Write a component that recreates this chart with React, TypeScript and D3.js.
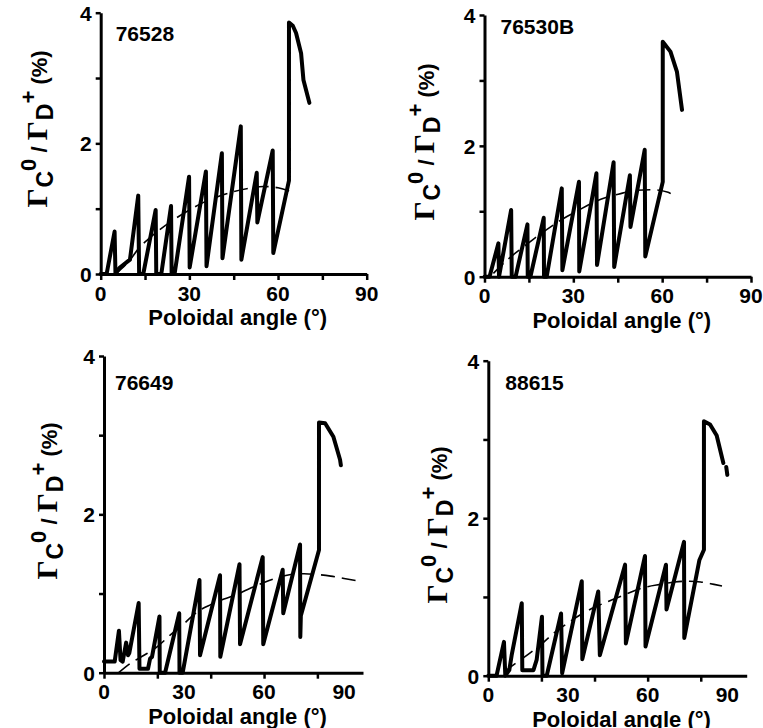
import * as d3 from "d3";
import { useEffect, useRef } from "react";

const W = 763;
const H = 728;

// shot numbers written in each panel
const shots = ["76528", "76530B", "76649", "88615"];

// measured C0 / D+ flux ratio (%) against poloidal angle (deg), one pair per shot
const angle76528 = [0, 2, 4.7, 5, 6.5, 9.9, 12.7, 13, 14.4, 18.6, 18.8, 20.5, 23.8, 24, 25, 29.9, 30.1, 35.6, 35.8, 41, 41.2, 47.4, 47.6, 52.8, 53, 58.2, 58.4, 63.7, 63.7, 65, 66.1, 67.8, 68.6, 70.6];
const ratio76528 = [0, 0, 0.65, 0, 0.1, 0.22, 1.2, 0, 0, 0.98, 0, 0, 1.04, 0, 0, 1.49, 0.1, 1.57, 0.12, 1.85, 0.24, 2.26, 0.22, 1.55, 0.79, 1.89, 0.32, 1.43, 3.85, 3.8, 3.69, 3.38, 2.97, 2.62];

const angle76530B = [0, 1.7, 4.7, 4.9, 5.5, 9, 9.2, 10.5, 14.5, 14.6, 15.5, 20, 20.1, 21, 26.1, 26.3, 31.9, 32, 37.8, 38, 43.6, 43.8, 49.1, 49.3, 54.1, 54.3, 60.2, 60.2, 62.8, 65, 66.7];
const ratio76530B = [0, 0, 0.51, 0, 0.15, 1.02, 0, 0, 0.8, 0, 0, 0.9, 0, 0, 1.35, 0.1, 1.45, 0.08, 1.58, 0.18, 1.75, 0.15, 1.55, 0.76, 1.94, 0.31, 1.45, 3.59, 3.44, 3.13, 2.55];

const angle76649 = [0, 4, 5.6, 6.2, 7, 8.3, 9, 9.5, 13, 13.3, 16.5, 17.3, 18, 20.8, 20.9, 22.9, 28.2, 28.3, 29.5, 35.8, 36, 43.5, 43.6, 50.8, 51, 59.5, 59.7, 67, 67.2, 73.5, 73.6, 73.8, 80.6, 80.6, 82.9, 86, 88.5, 88.8];
const ratio76649 = [0.14, 0.14, 0.53, 0.16, 0.14, 0.38, 0.22, 0.25, 0.88, 0.05, 0.05, 0.18, 0.2, 0.71, 0, 0, 0.75, 0, 0, 1.17, 0.22, 1.23, 0.2, 1.37, 0.36, 1.46, 0.36, 1.3, 0.75, 1.62, 0.45, 0.72, 1.55, 3.16, 3.15, 2.98, 2.69, 2.62];

const angle88615 = [0, 3.1, 5.9, 6.4, 7.9, 8.8, 12.6, 12.8, 17, 18.2, 20.2, 20.4, 22, 27.4, 27.8, 35.2, 35.4, 41.4, 42, 51.5, 51.8, 59, 59.2, 66.9, 67.1, 73.7, 73.8, 79.5, 81.2, 81.2, 83.5, 86, 88, 88.5, 89.2, 89.6, 90];
const ratio88615 = [0, 0, 0.43, 0, 0.07, 0.26, 0.92, 0.07, 0.07, 0.2, 0.75, 0, 0, 0.79, 0.03, 1.2, 0.21, 1.07, 0.26, 1.41, 0.41, 1.52, 0.37, 1.41, 0.84, 1.7, 0.48, 1.47, 1.6, 3.23, 3.19, 3.05, 2.77, 2.7, NaN, 2.65, 2.55];

// dashed trend through each sawtooth
const fitAngle76528 = [5, 10, 13, 16, 20, 25, 30, 35, 40, 45, 50, 55, 60, 65];
const fitRatio76528 = [0, 0.22, 0.4, 0.53, 0.68, 0.84, 0.98, 1.1, 1.19, 1.26, 1.31, 1.34, 1.32, 1.25];

const fitAngle76530B = [3, 8, 13, 17, 21.6, 26.7, 31.2, 36, 41, 46, 51, 56.6, 62, 63.5];
const fitRatio76530B = [0.05, 0.27, 0.45, 0.59, 0.74, 0.89, 1.0, 1.12, 1.21, 1.27, 1.32, 1.33, 1.29, 1.25];

const fitAngle76649 = [5.5, 10, 15, 20, 25, 30, 35, 40, 45, 50, 55, 60, 65, 70, 75, 80, 85, 90, 95];
const fitRatio76649 = [0, 0.12, 0.22, 0.33, 0.48, 0.62, 0.77, 0.86, 0.93, 0.99, 1.07, 1.14, 1.2, 1.24, 1.25, 1.24, 1.22, 1.19, 1.16];

const fitAngle88615 = [6, 10, 15, 20, 25, 30, 35, 40, 45, 50, 55, 60, 65, 70, 75, 80, 85, 88];
const fitRatio88615 = [0.05, 0.15, 0.27, 0.4, 0.55, 0.67, 0.78, 0.87, 0.94, 1.01, 1.08, 1.13, 1.16, 1.19, 1.2, 1.19, 1.16, 1.14];

const measuredAngles = [angle76528, angle76530B, angle76649, angle88615];
const measuredRatios = [ratio76528, ratio76530B, ratio76649, ratio88615];
const fitAngles = [fitAngle76528, fitAngle76530B, fitAngle76649, fitAngle88615];
const fitRatios = [fitRatio76528, fitRatio76530B, fitRatio76649, fitRatio88615];

const yTicks = [0, 1, 2, 3, 4];
const yTickLabels = [0, 2, 4];
const xTickLabels = [0, 30, 60, 90];
const xTicksWide = [0, 15, 30, 45, 60, 75, 90];
const xTicksNarrow = [0, 20, 40, 60, 80];

// where each panel sits on the page
const layout = [
  { left: 100.7, right: 366.7, xMax: 90, bottom: 274, top: 12.7, xTicks: xTicksWide, nameX: 15, nameY: 28, ylabX: 47, ylabY: 129 },
  { left: 484.5, right: 751, xMax: 90, bottom: 276.7, top: 15, xTicks: xTicksWide, nameX: 16, nameY: 19, ylabX: 434, ylabY: 142 },
  { left: 104, right: 363, xMax: 97.1, bottom: 672.7, top: 356, xTicks: xTicksNarrow, nameX: 11, nameY: 34, ylabX: 57, ylabY: 501 },
  { left: 488.3, right: 746.7, xMax: 97.3, bottom: 675.7, top: 360.7, xTicks: xTicksNarrow, nameX: 17, nameY: 29, ylabX: 447, ylabY: 525 },
];

const SANS = "'Liberation Sans', Arial, Helvetica, sans-serif";
const SERIF = "'Liberation Serif', 'Times New Roman', serif";

export default function App() {
  const svgRef = useRef(null);

  useEffect(() => {
    const svg = d3.select(svgRef.current);
    svg.selectAll("*").remove();

    layout.forEach((p, i) => {
      const x = d3.scaleLinear().domain([0, p.xMax]).range([p.left, p.right]);
      const y = d3.scaleLinear().domain([0, 4]).range([p.bottom, p.top]);
      const g = svg.append("g");

      // y axis
      const yAxis = g
        .append("g")
        .attr("transform", `translate(${p.left},0)`)
        .call(
          d3
            .axisLeft(y)
            .tickValues(yTicks)
            .tickSize(5)
            .tickSizeOuter(0)
            .tickPadding(4)
            .tickFormat((d) => (yTickLabels.includes(d) ? String(d) : ""))
        );
      yAxis.select(".domain").attr("stroke-width", 3);
      yAxis.selectAll(".tick line").attr("stroke-width", 2.5);
      yAxis
        .selectAll(".tick text")
        .attr("font-family", SANS)
        .attr("font-weight", "bold")
        .attr("font-size", 21)
        .attr("dy", "0.36em");

      // x axis, tick marks only
      const xAxis = g
        .append("g")
        .attr("transform", `translate(0,${p.bottom})`)
        .call(
          d3
            .axisBottom(x)
            .tickValues(p.xTicks)
            .tickSize(6)
            .tickSizeOuter(0)
            .tickFormat(() => "")
        );
      xAxis.select(".domain").attr("stroke-width", 3);
      xAxis.selectAll(".tick line").attr("stroke-width", 2.5);

      g.selectAll(".xlab")
        .data(xTickLabels)
        .join("text")
        .attr("class", "xlab")
        .attr("x", (d) => x(d))
        .attr("y", p.bottom + 19)
        .attr("dy", "0.36em")
        .attr("text-anchor", "middle")
        .attr("font-family", SANS)
        .attr("font-weight", "bold")
        .attr("font-size", 21)
        .text((d) => d);

      g.append("text")
        .attr("x", (p.left + p.right) / 2 + 4)
        .attr("y", p.bottom + 51)
        .attr("text-anchor", "middle")
        .attr("font-family", SANS)
        .attr("font-weight", "bold")
        .attr("font-size", 22)
        .text("Poloidal angle (°)");

      // shot number
      g.append("text")
        .attr("x", p.left + p.nameX)
        .attr("y", p.top + p.nameY)
        .attr("font-family", SANS)
        .attr("font-weight", "bold")
        .attr("font-size", 21)
        .text(shots[i]);

      // y label
      const yl = g
        .append("text")
        .attr("transform", `translate(${p.ylabX},${p.ylabY}) rotate(-90)`)
        .attr("text-anchor", "middle")
        .attr("font-family", SANS)
        .attr("font-weight", "bold")
        .attr("font-size", 22);
      yl.append("tspan").attr("font-family", SERIF).attr("font-size", 30).text("Γ");
      yl.append("tspan").attr("dx", 1).attr("dy", 6).attr("font-size", 23).text("C");
      yl.append("tspan").attr("dy", -17).attr("font-size", 22).text("0");
      yl.append("tspan").attr("dy", 11).text(" / ");
      yl.append("tspan").attr("font-family", SERIF).attr("font-size", 30).text("Γ");
      yl.append("tspan").attr("dx", 1).attr("dy", 6).attr("font-size", 23).text("D");
      yl.append("tspan").attr("dy", -17).attr("font-size", 22).text("+");
      yl.append("tspan").attr("dy", 11).text("  (%)");

      // dashed trend
      const fit = fitAngles[i].map((a, k) => [a, fitRatios[i][k]]);
      g.append("path")
        .attr("d", d3.line().x((d) => x(d[0])).y((d) => y(d[1])).curve(d3.curveMonotoneX)(fit))
        .attr("fill", "none")
        .attr("stroke", "#000")
        .attr("stroke-width", 1.6)
        .attr("stroke-dasharray", "14 7");

      // measured sawtooth
      const pts = measuredAngles[i].map((a, k) => [a, measuredRatios[i][k]]);
      g.append("path")
        .attr(
          "d",
          d3
            .line()
            .defined((d) => !Number.isNaN(d[1]))
            .x((d) => x(d[0]))
            .y((d) => y(d[1]))(pts)
        )
        .attr("fill", "none")
        .attr("stroke", "#000")
        .attr("stroke-width", 4)
        .attr("stroke-linejoin", "round")
        .attr("stroke-linecap", "round");
    });
  }, []);

  return (
    <svg
      ref={svgRef}
      width={W}
      height={H}
      viewBox={`0 0 ${W} ${H}`}
      style={{ position: "absolute", left: 0, top: 0, background: "#fff" }}
    />
  );
}
